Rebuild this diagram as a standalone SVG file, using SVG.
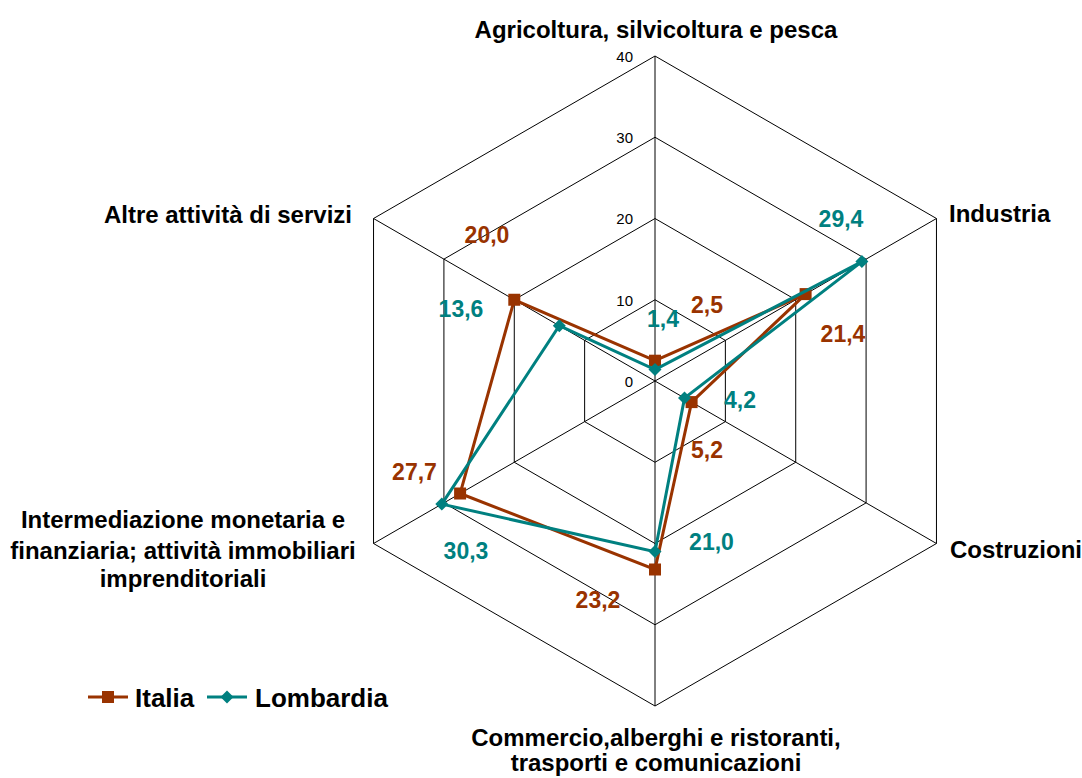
<svg xmlns="http://www.w3.org/2000/svg" width="1082" height="778" viewBox="0 0 1082 778">
<defs>
<style>
.grid{fill:none;stroke:#000;stroke-width:1}
.ax{font-family:"Liberation Sans",Arial,sans-serif;font-size:15px;fill:#000;text-anchor:end}
.cat{font-family:"Liberation Sans",Arial,sans-serif;font-size:24px;font-weight:bold;fill:#000}
.it{fill:#993300}
.lo{fill:#008080}
.dl{font-family:"Liberation Sans",Arial,sans-serif;font-size:23px;font-weight:bold;text-anchor:middle}
.lg{font-family:"Liberation Sans",Arial,sans-serif;font-size:26px;font-weight:bold;fill:#000}
.sit{fill:none;stroke:#993300;stroke-width:3;stroke-linejoin:miter}
.slo{fill:none;stroke:#008080;stroke-width:3;stroke-linejoin:miter}
</style>
<rect id="msq" x="-6" y="-6" width="12" height="12" fill="#993300"/>
<path id="mdi" d="M0,-6.5 L6.5,0 L0,6.5 L-6.5,0 Z" fill="#008080"/>
</defs>
<rect width="1082" height="778" fill="#fff"/>
<g id="grid">
<polygon class="grid" points="655,56 936.46,218.5 936.46,543.5 655,706 373.54,543.5 373.54,218.5"/>
<polygon class="grid" points="655,137.25 866.09,259.125 866.09,502.875 655,624.75 443.91,502.875 443.91,259.125"/>
<polygon class="grid" points="655,218.5 795.73,299.75 795.73,462.25 655,543.5 514.27,462.25 514.27,299.75"/>
<polygon class="grid" points="655,299.75 725.36,340.375 725.36,421.625 655,462.25 584.64,421.625 584.64,340.375"/>
<path class="grid" d="M655,381 L655,56 M655,381 L936.46,218.5 M655,381 L936.46,543.5 M655,381 L655,706 M655,381 L373.54,543.5 M655,381 L373.54,218.5"/>
</g>
<g id="axis-labels">
<text class="ax" x="633" y="386.5">0</text>
<text class="ax" x="633" y="305.5">10</text>
<text class="ax" x="633" y="224">20</text>
<text class="ax" x="633" y="143">30</text>
<text class="ax" x="633" y="61.5">40</text>
</g>
<g id="cat-agricoltura"><text class="cat" x="656" y="38" text-anchor="middle">Agricoltura, silvicoltura e pesca</text></g>
<g id="cat-industria"><text class="cat" x="949" y="222">Industria</text></g>
<g id="cat-costruzioni"><text class="cat" x="950" y="558">Costruzioni</text></g>
<g id="cat-commercio"><text class="cat" text-anchor="middle"><tspan x="656" y="746">Commercio,alberghi e ristoranti,</tspan><tspan x="656" y="771">trasporti e comunicazioni</tspan></text></g>
<g id="cat-intermediazione"><text class="cat" text-anchor="middle"><tspan x="183" y="528">Intermediazione monetaria e</tspan><tspan x="183" y="559">finanziaria; attività immobiliari</tspan><tspan x="183" y="587">imprenditoriali</tspan></text></g>
<g id="cat-altre"><text class="cat" x="352" y="223" text-anchor="end">Altre attività di servizi</text></g>
<g id="connectors">
<g id="series-italia">
<polygon class="sit" points="655,360.7 805.6,294.1 691.6,402.1 655,569.5 460.1,493.5 514.3,299.75"/>
<use href="#msq" x="655" y="360.7"/>
<use href="#msq" x="805.6" y="294.1"/>
<use href="#msq" x="691.6" y="402.1"/>
<use href="#msq" x="655" y="569.5"/>
<use href="#msq" x="460.1" y="493.5"/>
<use href="#msq" x="514.3" y="299.75"/>
</g>
<g id="series-lombardia">
<polygon class="slo" points="655,369.6 861.9,261.6 684.5,398.1 655,551.6 441.8,504.1 559.3,325.75"/>
<use href="#mdi" x="655" y="369.6"/>
<use href="#mdi" x="861.9" y="261.6"/>
<use href="#mdi" x="684.5" y="398.1"/>
<use href="#mdi" x="655" y="551.6"/>
<use href="#mdi" x="441.8" y="504.1"/>
<use href="#mdi" x="559.3" y="325.75"/>
</g>
</g>
<g id="data-labels">
<text class="dl it" x="707" y="313">2,5</text>
<text class="dl it" x="843" y="341.5">21,4</text>
<text class="dl it" x="707" y="458">5,2</text>
<text class="dl it" x="598" y="608">23,2</text>
<text class="dl it" x="414.5" y="480">27,7</text>
<text class="dl it" x="487" y="243">20,0</text>
<text class="dl lo" x="663" y="326.5">1,4</text>
<text class="dl lo" x="841" y="226.5">29,4</text>
<text class="dl lo" x="740" y="408">4,2</text>
<text class="dl lo" x="711.5" y="550">21,0</text>
<text class="dl lo" x="466" y="559">30,3</text>
<text class="dl lo" x="461" y="316.5">13,6</text>
</g>
<g id="legend">
<line x1="88" y1="697" x2="128" y2="697" stroke="#993300" stroke-width="3"/>
<use href="#msq" x="108" y="697"/>
<text class="lg" x="135" y="706.5">Italia</text>
<line x1="207" y1="697" x2="247" y2="697" stroke="#008080" stroke-width="3"/>
<use href="#mdi" x="227" y="697"/>
<text class="lg" x="255" y="706.5">Lombardia</text>
</g>
</svg>
